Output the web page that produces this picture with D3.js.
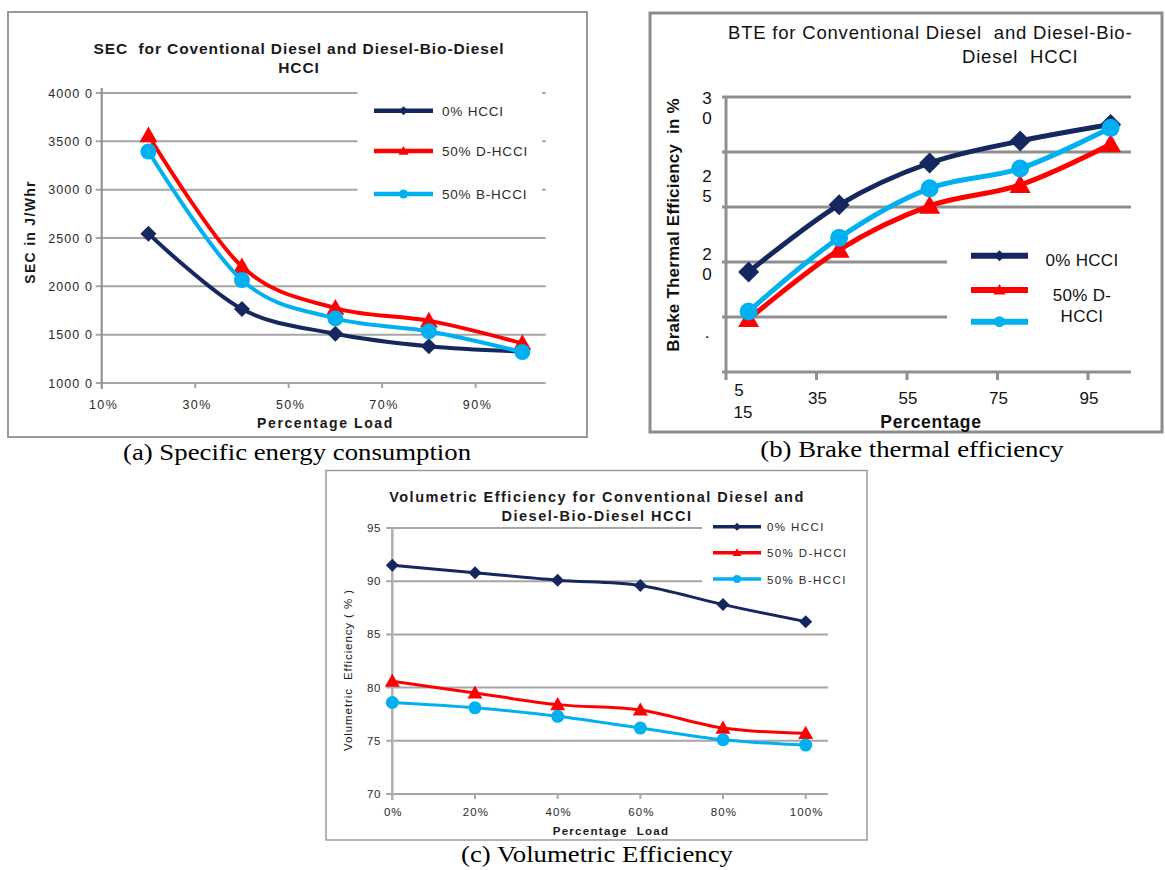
<!DOCTYPE html>
<html>
<head>
<meta charset="utf-8">
<script src="https://cdn.jsdelivr.net/npm/d3@7"></script>
<style>
  body { margin: 0; background: #fff; }
  svg { display: block; }
  text { font-family: "Liberation Sans", Arial, sans-serif; }
  .caption { font-family: "Liberation Serif", "Times New Roman", serif; font-size: 22.5px; fill: #000; }
</style>
</head>
<body>
<svg id="fig" width="1165" height="870"></svg>
<script>
// shared series info
const seriesNames = ["0% HCCI", "50% D-HCCI", "50% B-HCCI"];
const seriesColors = ["#14275e", "#ff0000", "#00b0f0"];
const seriesMarkers = ["diamond", "triangle", "circle"];

// (a) specific energy consumption
const secLoads = [20, 40, 60, 80, 100];
const secHCCI0 = [2545, 1765, 1510, 1380, 1325];
const secDHCCI = [3560, 2205, 1775, 1645, 1410];
const secBHCCI = [3395, 2065, 1668, 1535, 1320];
const secYTicks = [1000, 1500, 2000, 2500, 3000, 3500, 4000];
const secYTickText = ["1000 0", "1500 0", "2000 0", "2500 0", "3000 0", "3500 0", "4000 0"];
const secXTicks = [10, 30, 50, 70, 90];

// (b) brake thermal efficiency
const bteLoads = [20, 40, 60, 80, 100];
const bteHCCI0 = [14.1, 20.2, 24.0, 26.0, 27.5];
const bteDHCCI = [9.8, 16.1, 20.1, 22.0, 25.7];
const bteBHCCI = [10.5, 17.2, 21.7, 23.5, 27.2];
const bteYTicks = [5, 10, 15, 20, 25, 30];
const bteYTickText = [["3", "0"], ["2", "5"], ["2", "0"], ["."]];
const bteXTicks = [15, 35, 55, 75, 95];
const bteXTickText = [["5", "15"], ["35"], ["55"], ["75"], ["95"]];
const bteLegendText = [["0% HCCI"], ["50% D-", "HCCI"], []];

// (c) volumetric efficiency
const veLoads = [0, 20, 40, 60, 80, 100];
const veHCCI0 = [91.5, 90.8, 90.1, 89.6, 87.8, 86.2];
const veDHCCI = [80.6, 79.5, 78.4, 77.9, 76.2, 75.7];
const veBHCCI = [78.6, 78.1, 77.3, 76.2, 75.1, 74.6];
const veYTicks = [70, 75, 80, 85, 90, 95];

const svg = d3.select("#fig");

function markerPath(type, s) {
  if (type === "diamond") return `M0,${-s}L${s},0L0,${s}L${-s},0Z`;
  if (type === "triangle") return `M0,${-s}L${s},${s * 0.75}L${-s},${s * 0.75}Z`;
  return d3.symbol(d3.symbolCircle, Math.PI * s * s)();
}

function drawSeries(g, x, y, loads, series, lineW, mSizes) {
  const line = d3.line()
    .x(d => x(d[0]))
    .y(d => y(d[1]))
    .curve(d3.curveCardinal);
  series.forEach((vals, k) => {
    const pts = loads.map((l, i) => [l, vals[i]]);
    g.append("path")
      .attr("d", line(pts))
      .attr("fill", "none")
      .attr("stroke", seriesColors[k])
      .attr("stroke-width", lineW)
      .attr("stroke-linejoin", "round");
    g.selectAll(null).data(pts).enter().append("path")
      .attr("transform", d => `translate(${x(d[0])},${y(d[1])})`)
      .attr("d", markerPath(seriesMarkers[k], mSizes[k]))
      .attr("fill", seriesColors[k]);
  });
}

function legendEntry(g, k, x0, x1, yy, lineW, mSize) {
  g.append("line")
    .attr("x1", x0).attr("x2", x1).attr("y1", yy).attr("y2", yy)
    .attr("stroke", seriesColors[k]).attr("stroke-width", lineW);
  g.append("path")
    .attr("transform", `translate(${(x0 + x1) / 2},${yy})`)
    .attr("d", markerPath(seriesMarkers[k], mSize))
    .attr("fill", seriesColors[k]);
}

// captions in the figure are a bit stretched sideways
function caption(x, y, s) {
  svg.append("text").attr("class", "caption")
    .attr("transform", `translate(${x},${y}) scale(1.19,1)`)
    .attr("text-anchor", "middle")
    .text(s);
}

// ---------------- panel (a) ----------------
{
  const g = svg.append("g");
  g.append("rect").attr("x", 8).attr("y", 12).attr("width", 579).attr("height", 425)
    .attr("fill", "#fff").attr("stroke", "#9a9a9a").attr("stroke-width", 2);

  const x = d3.scaleLinear().domain([10, 105]).range([101.7, 545.7]);
  const y = d3.scaleLinear().domain([1000, 4000]).range([383, 93]);

  g.selectAll(null).data(secYTicks).enter().append("line")
    .attr("x1", x(10) - 6).attr("x2", x(105))
    .attr("y1", d => y(d)).attr("y2", d => y(d))
    .attr("stroke", "#a6a6a6").attr("stroke-width", 2);
  // legend background cuts the top grid lines
  g.append("rect").attr("x", 357.5).attr("y", 85).attr("width", 184.5).attr("height", 120).attr("fill", "#fff");

  g.append("line").attr("x1", x(10)).attr("x2", x(10)).attr("y1", y(4000) - 5).attr("y2", y(1000) + 6)
    .attr("stroke", "#8c8c8c").attr("stroke-width", 2);
  g.selectAll(null).data(secXTicks.slice(1)).enter().append("line")
    .attr("x1", d => x(d)).attr("x2", d => x(d)).attr("y1", y(1000)).attr("y2", y(1000) + 5)
    .attr("stroke", "#a6a6a6").attr("stroke-width", 2);

  g.selectAll(null).data(secYTicks).enter().append("text")
    .attr("x", 93).attr("y", d => y(d) + 4.5)
    .attr("text-anchor", "end").attr("font-size", 12.5).attr("fill", "#2a2a2a")
    .attr("letter-spacing", 1.1)
    .text((d, i) => secYTickText[i]);
  g.selectAll(null).data(secXTicks).enter().append("text")
    .attr("x", d => x(d) + 2).attr("y", 409)
    .attr("text-anchor", "middle").attr("font-size", 12.5).attr("fill", "#2a2a2a")
    .attr("letter-spacing", 1.5)
    .text(d => d + "%");

  g.append("text").attr("x", 299).attr("y", 54).attr("text-anchor", "middle")
    .attr("font-size", 15.5).attr("font-weight", "bold").attr("fill", "#1a1a1a")
    .attr("letter-spacing", 0.9).attr("xml:space", "preserve")
    .text("SEC  for Coventional Diesel and Diesel-Bio-Diesel");
  g.append("text").attr("x", 299).attr("y", 73).attr("text-anchor", "middle")
    .attr("font-size", 15.5).attr("font-weight", "bold").attr("fill", "#1a1a1a")
    .attr("letter-spacing", 0.9)
    .text("HCCI");
  g.append("text").attr("transform", "translate(35,232) rotate(-90)").attr("text-anchor", "middle")
    .attr("font-size", 14).attr("font-weight", "bold").attr("fill", "#1a1a1a")
    .attr("letter-spacing", 1.3)
    .text("SEC in J/Whr");
  g.append("text").attr("x", 325.5).attr("y", 428).attr("text-anchor", "middle")
    .attr("font-size", 14).attr("font-weight", "bold").attr("fill", "#1a1a1a")
    .attr("letter-spacing", 1.6)
    .text("Percentage Load");

  drawSeries(g, x, y, secLoads, [secHCCI0, secDHCCI, secBHCCI], 4, [8, 9, 8]);

  [110.7, 151, 194].forEach((yy, k) => {
    legendEntry(g, k, 374, 433, yy, 4.5, [4.5, 5, 4.5][k]);
    g.append("text").attr("x", 442).attr("y", yy + 5).attr("font-size", 13.5).attr("fill", "#2a2a2a")
      .attr("letter-spacing", 0.8)
      .text(seriesNames[k]);
  });

  caption(297, 460, "(a) Specific energy consumption");
}

// ---------------- panel (b) ----------------
{
  const g = svg.append("g");
  g.append("rect").attr("x", 650).attr("y", 13).attr("width", 512).attr("height", 419)
    .attr("fill", "#fff").attr("stroke", "#8c8c8c").attr("stroke-width", 3);

  const x = d3.scaleLinear().domain([15, 104.5]).range([726, 1131]);
  const y = d3.scaleLinear().domain([5, 30]).range([372, 97]);

  g.selectAll(null).data(bteYTicks).enter().append("line")
    .attr("x1", x(15) - 4).attr("x2", x(104.5))
    .attr("y1", d => y(d)).attr("y2", d => y(d))
    .attr("stroke", "#8f8f8f").attr("stroke-width", 3);
  g.append("rect").attr("x", 947).attr("y", 240).attr("width", 190).attr("height", 95).attr("fill", "#fff");

  g.append("line").attr("x1", x(15)).attr("x2", x(15)).attr("y1", y(30)).attr("y2", y(5) + 8)
    .attr("stroke", "#8f8f8f").attr("stroke-width", 3);
  g.selectAll(null).data(bteXTicks.slice(1)).enter().append("line")
    .attr("x1", d => x(d)).attr("x2", d => x(d)).attr("y1", y(5)).attr("y2", y(5) + 8)
    .attr("stroke", "#8f8f8f").attr("stroke-width", 3);

  // wrapped y tick labels as they appear
  bteYTickText.forEach((lines, i) => {
    lines.forEach((s, j) => {
      g.append("text").attr("x", 707).attr("y", 104 + i * 78 + j * 20)
        .attr("text-anchor", "middle").attr("font-size", 17).attr("fill", "#111")
        .text(s);
    });
  });
  bteXTicks.forEach((t, i) => {
    const lines = bteXTickText[i];
    lines.forEach((s, j) => {
      const multi = lines.length > 1;
      g.append("text")
        .attr("x", x(t) + (multi ? 13 + j * 4 : 1))
        .attr("y", multi ? 396 + j * 22 : 404)
        .attr("text-anchor", "middle").attr("font-size", 17).attr("fill", "#111")
        .text(s);
    });
  });

  g.append("text").attr("x", 728).attr("y", 39).attr("font-size", 18.5).attr("fill", "#111")
    .attr("letter-spacing", 0.8).attr("xml:space", "preserve")
    .text("BTE for Conventional Diesel  and Diesel-Bio-");
  g.append("text").attr("x", 962).attr("y", 63).attr("font-size", 18.5).attr("fill", "#111")
    .attr("letter-spacing", 0.8).attr("xml:space", "preserve")
    .text("Diesel  HCCI");
  g.append("text").attr("transform", "translate(679,225) rotate(-90)").attr("text-anchor", "middle")
    .attr("font-size", 17).attr("font-weight", "bold").attr("fill", "#111")
    .attr("letter-spacing", 0.2).attr("xml:space", "preserve")
    .text("Brake Thermal Efficiency  in %");
  g.append("text").attr("x", 931).attr("y", 428).attr("text-anchor", "middle")
    .attr("font-size", 17.5).attr("font-weight", "bold").attr("fill", "#111")
    .attr("letter-spacing", 0.7)
    .text("Percentage");

  drawSeries(g, x, y, bteLoads, [bteHCCI0, bteDHCCI, bteBHCCI], 5, [10.5, 10.5, 9]);

  [255.7, 290, 321.7].forEach((yy, k) => {
    legendEntry(g, k, 971, 1028, yy, 6, [5.5, 6, 5.5][k]);
  });
  [[266], [301, 322], []].forEach((ys, k) => {
    ys.forEach((yy, j) => {
      g.append("text").attr("x", 1082).attr("y", yy).attr("text-anchor", "middle")
        .attr("font-size", 17).attr("fill", "#111").attr("letter-spacing", 0.3)
        .text(bteLegendText[k][j]);
    });
  });

  caption(912, 457, "(b) Brake thermal efficiency");
}

// ---------------- panel (c) ----------------
{
  const g = svg.append("g");
  g.append("rect").attr("x", 326).attr("y", 470.5).attr("width", 541).attr("height", 369.5)
    .attr("fill", "#fff").attr("stroke", "#9a9a9a").attr("stroke-width", 1.5);

  const x = d3.scaleLinear().domain([0, 105.4]).range([392.3, 828]);
  const y = d3.scaleLinear().domain([70, 95]).range([794, 528]);

  g.selectAll(null).data(veYTicks).enter().append("line")
    .attr("x1", x(0) - 6).attr("x2", x(105.4))
    .attr("y1", d => y(d)).attr("y2", d => y(d))
    .attr("stroke", "#a6a6a6").attr("stroke-width", 2);
  g.append("rect").attr("x", 702).attr("y", 515).attr("width", 140).attr("height", 78).attr("fill", "#fff");

  g.append("line").attr("x1", x(0)).attr("x2", x(0)).attr("y1", y(95)).attr("y2", y(70) + 6)
    .attr("stroke", "#b0b0b0").attr("stroke-width", 2.5);
  g.selectAll(null).data(veLoads.slice(1)).enter().append("line")
    .attr("x1", d => x(d)).attr("x2", d => x(d)).attr("y1", y(70)).attr("y2", y(70) + 5)
    .attr("stroke", "#a6a6a6").attr("stroke-width", 2);

  g.selectAll(null).data(veYTicks).enter().append("text")
    .attr("x", 381).attr("y", d => y(d) + 4)
    .attr("text-anchor", "end").attr("font-size", 11.5).attr("fill", "#2a2a2a")
    .attr("letter-spacing", 0.6)
    .text(d => d);
  g.selectAll(null).data(veLoads).enter().append("text")
    .attr("x", d => x(d) + 1).attr("y", 816)
    .attr("text-anchor", "middle").attr("font-size", 11.5).attr("fill", "#2a2a2a")
    .attr("letter-spacing", 1.1)
    .text(d => d + "%");

  g.append("text").attr("x", 597).attr("y", 502).attr("text-anchor", "middle")
    .attr("font-size", 14.5).attr("font-weight", "bold").attr("fill", "#1a1a1a")
    .attr("letter-spacing", 1.5)
    .text("Volumetric Efficiency for Conventional Diesel and");
  g.append("text").attr("x", 597).attr("y", 521).attr("text-anchor", "middle")
    .attr("font-size", 14.5).attr("font-weight", "bold").attr("fill", "#1a1a1a")
    .attr("letter-spacing", 1.5)
    .text("Diesel-Bio-Diesel HCCI");
  g.append("text").attr("transform", "translate(352,670) rotate(-90)").attr("text-anchor", "middle")
    .attr("font-size", 11.5).attr("fill", "#1a1a1a")
    .attr("letter-spacing", 0.9).attr("xml:space", "preserve")
    .text("Volumetric  Efficiency ( % )");
  g.append("text").attr("x", 611).attr("y", 835).attr("text-anchor", "middle")
    .attr("font-size", 11.5).attr("font-weight", "bold").attr("fill", "#1a1a1a")
    .attr("letter-spacing", 1.3).attr("xml:space", "preserve")
    .text("Percentage  Load");

  drawSeries(g, x, y, veLoads, [veHCCI0, veDHCCI, veBHCCI], 3, [6.5, 7.5, 6.5]);

  [526.7, 552.7, 579].forEach((yy, k) => {
    legendEntry(g, k, 713, 761, yy, 3.5, [4, 4.5, 4][k]);
    g.append("text").attr("x", 767).attr("y", yy + 4.5).attr("font-size", 11.5).attr("fill", "#2a2a2a")
      .attr("letter-spacing", 1.4)
      .text(seriesNames[k]);
  });

  caption(597, 862, "(c) Volumetric Efficiency");
}
</script>
</body>
</html>
